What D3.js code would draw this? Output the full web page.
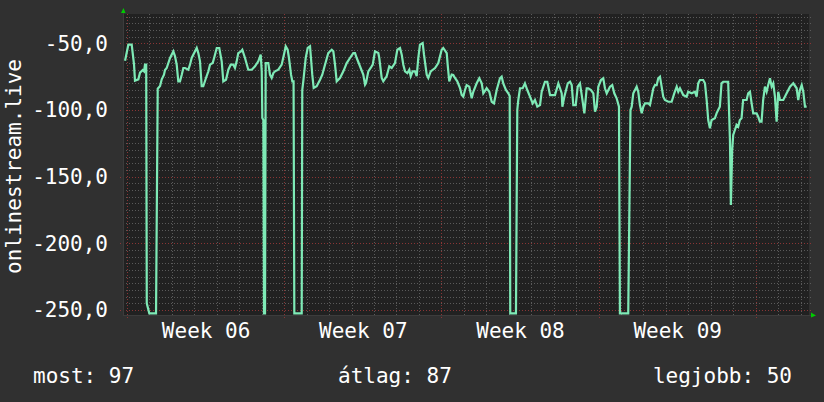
<!DOCTYPE html>
<html><head><meta charset="utf-8">
<script src="https://cdn.jsdelivr.net/npm/d3@7"></script>
<style>
html,body{margin:0;padding:0;background:#303030;}
svg{display:block;}
text{font-family:"DejaVu Sans Mono",monospace;fill:#ffffff;}
</style></head>
<body><svg id="c" width="824" height="402"></svg>
<script>
// hours from start of Week 06
const times = [-2.1,1.4,5.0,7.5,8.5,12.1,13.9,16.8,18.2,19.2,20.5,21.1,23.8,31.0,32.8,35.3,37.1,39.5,40.6,42.4,46.0,49.5,51.3,53.1,54.8,56.6,58.5,60.2,62.0,65.5,67.3,69.1,72.7,74.5,76.2,78.0,79.8,81.5,84.4,86.9,88.7,91.6,94.0,95.9,98.6,101.2,102.9,105.8,108.3,110.8,113.6,115.4,117.2,118.9,121.8,123.2,126.1,129.6,133.3,136.8,140.3,142.9,144.0,144.6,145.7,146.4,147.5,148.2,151.0,152.8,154.6,156.4,158.2,161.7,165.3,168.1,169.6,171.7,173.1,175.3,176.7,178.0,178.8,186.7,187.3,188.4,191.0,193.1,195.6,196.6,198.0,199.5,202.7,206.3,208.7,211.6,215.1,218.8,220.5,222.3,224.1,227.6,231.2,234.8,238.3,241.8,243.7,245.5,252.5,254.4,255.4,257.9,260.4,262.6,265.0,268.6,269.6,272.2,273.9,277.5,280.3,282.9,286.4,288.9,291.8,293.6,295.3,297.1,299.6,301.7,303.2,305.3,307.8,309.6,311.3,313.1,316.0,317.4,320.3,322.0,324.6,329.2,332.7,336.3,338.0,341.7,342.7,344.4,347.0,348.7,350.5,353.0,355.9,357.7,359.4,361.2,363.0,365.8,368.4,370.1,373.7,376.5,379.1,380.8,384.4,387.2,389.8,392.2,395.1,398.6,400.4,402.1,405.0,407.5,409.0,409.6,415.7,417.1,418.2,420.0,422.9,425.3,427.8,430.7,433.6,436.0,438.5,441.4,443.2,446.7,449.2,452.1,457.4,461.0,462.8,464.6,465.3,467.4,471.1,473.5,475.3,477.0,479.6,481.7,484.1,486.0,488.8,491.3,493.0,495.9,498.4,500.2,502.0,503.7,506.6,509.0,510.8,512.7,516.2,518.6,520.8,523.3,525.8,526.8,535.7,538.1,539.4,541.1,542.9,544.7,546.4,548.2,550.1,551.8,553.6,557.1,558.9,560.7,562.5,564.3,566.1,567.8,569.6,571.4,573.1,574.9,578.5,582.1,584.9,587.5,589.2,591.0,594.5,598.1,599.8,603.5,607.0,608.8,610.5,612.3,615.8,617.7,619.5,621.2,623.0,624.8,628.3,630.1,631.8,633.6,635.4,637.2,642.5,644.4,645.4,646.8,647.9,649.7,651.5,653.2,655.0,656.8,658.5,662.2,663.9,665.8,667.6,669.3,672.9,674.6,676.4,678.2,679.9,681.8,683.6,685.3,687.2,689.0,690.7,692.5,694.3,696.0,697.9,701.4,705.0,708.6,712.1,715.7,717.4,719.2,721.1,722.8,724.6,726.4];
const values = [-63,-51,-51,-66,-78,-77,-72,-70,-71,-66,-66,-245,-252.5,-252.5,-84,-82,-77,-73.5,-70,-68.5,-61,-56,-59.7,-66,-78.5,-78.5,-73.5,-68.5,-68.5,-69.8,-66,-61,-56,-53.5,-57.3,-63.5,-82.2,-82.2,-76,-71,-66,-64.8,-58.5,-53.5,-53.5,-63.5,-78.5,-77.3,-69.8,-66,-66,-68.5,-63.5,-57.3,-56,-54.8,-61,-69.8,-69.8,-67.2,-63.5,-58.5,-71,-106,-107.5,-252.5,-252.5,-64.8,-64.8,-73.5,-76,-72.3,-71,-69.8,-66,-57.3,-52.2,-54.8,-61,-73.5,-78.5,-78.5,-252.5,-252.5,-85,-78.5,-61,-53.5,-52.2,-61,-73.5,-83.5,-82.2,-77.3,-73.5,-66,-57.3,-54.8,-56,-66,-78.5,-76,-71,-64.8,-61,-57.3,-57.3,-61,-73.5,-81,-79.8,-71,-68.5,-66,-56,-57.3,-61,-76,-78.5,-74.7,-67.2,-68.5,-64.8,-54.8,-53.5,-58.5,-66,-71,-72.3,-69.8,-74.7,-71,-71,-74.7,-61,-51,-49.8,-58.5,-73.5,-76,-71,-68.5,-64.8,-54.8,-53.5,-57.3,-66,-78.5,-73.5,-73.8,-76,-78.5,-83.5,-88.8,-90,-85,-81.3,-82.5,-91.2,-86.3,-80,-76.2,-80,-87.5,-83.7,-86.3,-93.8,-95,-85,-76.2,-75,-80,-85,-87.5,-89.5,-252.5,-252.5,-100,-92.5,-83.7,-83.7,-80,-85,-90,-95,-92.5,-97.5,-96.3,-86.3,-78.8,-78.8,-88.8,-88.8,-80,-83.7,-87.5,-97.5,-90,-80,-78.8,-81.3,-96.3,-96.3,-82.5,-80,-88.8,-102.5,-83.7,-83.7,-85,-87.5,-101.3,-97.5,-82.5,-77.5,-76.2,-83.7,-87.5,-82.5,-81.3,-87.5,-91.2,-97.5,-252.5,-252.5,-100,-97.5,-87.5,-85,-82.5,-86.3,-96.3,-102.5,-97.5,-95,-95,-96.3,-90,-83.7,-81.3,-81.3,-76.2,-75,-82.5,-90,-92.5,-93.8,-93.8,-87.5,-82.5,-86.3,-83.7,-88.8,-90,-86.3,-87.5,-86.3,-90,-80,-77.5,-77.5,-80,-92.5,-107.5,-113.7,-107.5,-106.2,-102.5,-100,-97.5,-80,-78.8,-78.8,-122.5,-171.2,-130,-118.7,-115,-111.2,-112.5,-107.5,-106.2,-92.5,-92.5,-87.5,-86.3,-95,-102.5,-102.5,-105,-108.8,-108.8,-92.5,-82.5,-86.3,-81.3,-76.2,-82.5,-80,-90,-108.8,-86.3,-92.5,-92.5,-87.5,-82.5,-80,-83.7,-92.5,-85,-81.3,-86.3,-97.5,-97.5];

const yTicks = [-50,-100,-150,-200,-250];
const weekLabels = ["Week 06","Week 07","Week 08","Week 09"];
const weekCenters = [84,252,420,588];       // hours
const weekBounds = [0,168,336,504,672];      // hours
const dayLines = d3.range(0, 721, 24);
const minorY = d3.range(-30, -255, -5);
const yLabel = "onlinestream.live";
const legend = [["most: 97", "start"], ["átlag: 87", "start"], ["legjobb: 50", "end"]];

const L = 123, R = 809, T = 14, B = 315;
const svg = d3.select("#c");
const x = d3.scaleLinear().domain([-4.3, 728.9]).range([L, R]);
const y = d3.scaleLinear().domain([-253.75, -28]).range([B, T]);

svg.append("rect").attr("x", L).attr("y", T).attr("width", R - L).attr("height", B - T).attr("fill", "#212121");

const g = svg.append("g");
g.selectAll(".hm").data(minorY.filter(v => v % 50 !== 0)).join("line")
  .attr("x1", L).attr("x2", R + 3).attr("y1", d => Math.round(y(d)) + 0.5).attr("y2", d => Math.round(y(d)) + 0.5)
  .attr("stroke", "#5a5a5a").attr("stroke-dasharray", "1,2");
g.selectAll(".vm").data(dayLines.filter(h => h % 168 !== 0)).join("line")
  .attr("x1", d => Math.round(x(d)) + 0.5).attr("x2", d => Math.round(x(d)) + 0.5).attr("y1", T).attr("y2", B + 2)
  .attr("stroke", "#5a5a5a").attr("stroke-dasharray", "1,2");
g.selectAll(".hM").data(yTicks).join("line")
  .attr("x1", L - 3).attr("x2", R + 3).attr("y1", d => Math.round(y(d)) + 0.5).attr("y2", d => Math.round(y(d)) + 0.5)
  .attr("stroke", "#8a3535").attr("stroke-dasharray", "1,2");
g.selectAll(".vM").data(weekBounds).join("line")
  .attr("x1", d => Math.round(x(d)) + 0.5).attr("x2", d => Math.round(x(d)) + 0.5).attr("y1", T).attr("y2", B + 3)
  .attr("stroke", "#8a3535").attr("stroke-dasharray", "1,2");

svg.append("line").attr("x1", L + 0.5).attr("x2", L + 0.5).attr("y1", T - 2).attr("y2", B).attr("stroke", "#3c3c3c");
svg.append("line").attr("x1", L).attr("x2", R + 3).attr("y1", B + 0.5).attr("y2", B + 0.5).attr("stroke", "#3c3c3c");
svg.append("path").attr("d", `M${L - 2},${T - 1} L${L + 2.5},${T - 1} L${L + 0.5},${T - 6} Z`).attr("fill", "#00cc00");
svg.append("path").attr("d", `M${R + 2},${B - 2.5} L${R + 2},${B + 2.5} L${R + 7},${B + 0.5} Z`).attr("fill", "#00cc00");

const ya = d3.axisLeft(y).tickValues(yTicks).tickSize(0).tickPadding(0)
  .tickFormat(d => d3.format(".1f")(d).replace(".", ",").replace("−", "-"));
const yg = svg.append("g").attr("transform", `translate(${108},0)`).call(ya);
yg.select(".domain").remove();
yg.selectAll("text").attr("font-size", 21).attr("font-family", "DejaVu Sans Mono").attr("fill", "#fff");

const xa = d3.axisBottom(x).tickValues(weekCenters).tickSize(0).tickPadding(0)
  .tickFormat((d, i) => weekLabels[i]);
const xg = svg.append("g").attr("transform", `translate(0,${323})`).call(xa);
xg.select(".domain").remove();
xg.selectAll("text").attr("font-size", 21).attr("font-family", "DejaVu Sans Mono").attr("fill", "#fff").attr("dy", "0.71em");

svg.append("text").attr("transform", `translate(21,${(T + B) / 2 + 2}) rotate(-90)`)
  .attr("text-anchor", "middle").attr("font-size", 21).text(yLabel);

const data = times.map((t, i) => [t, values[i]]);
svg.append("path").datum(data)
  .attr("d", d3.line().x(d => x(d[0])).y(d => y(d[1])))
  .attr("fill", "none").attr("stroke", "#7eeab6").attr("stroke-width", 2.2).attr("stroke-linejoin", "miter");

const lx = [33, 338, 792];
svg.selectAll(".lg").data(legend).join("text")
  .attr("x", (d, i) => lx[i]).attr("y", 383).attr("text-anchor", d => d[1])
  .attr("font-size", 21).text(d => d[0]);
</script></body></html>
